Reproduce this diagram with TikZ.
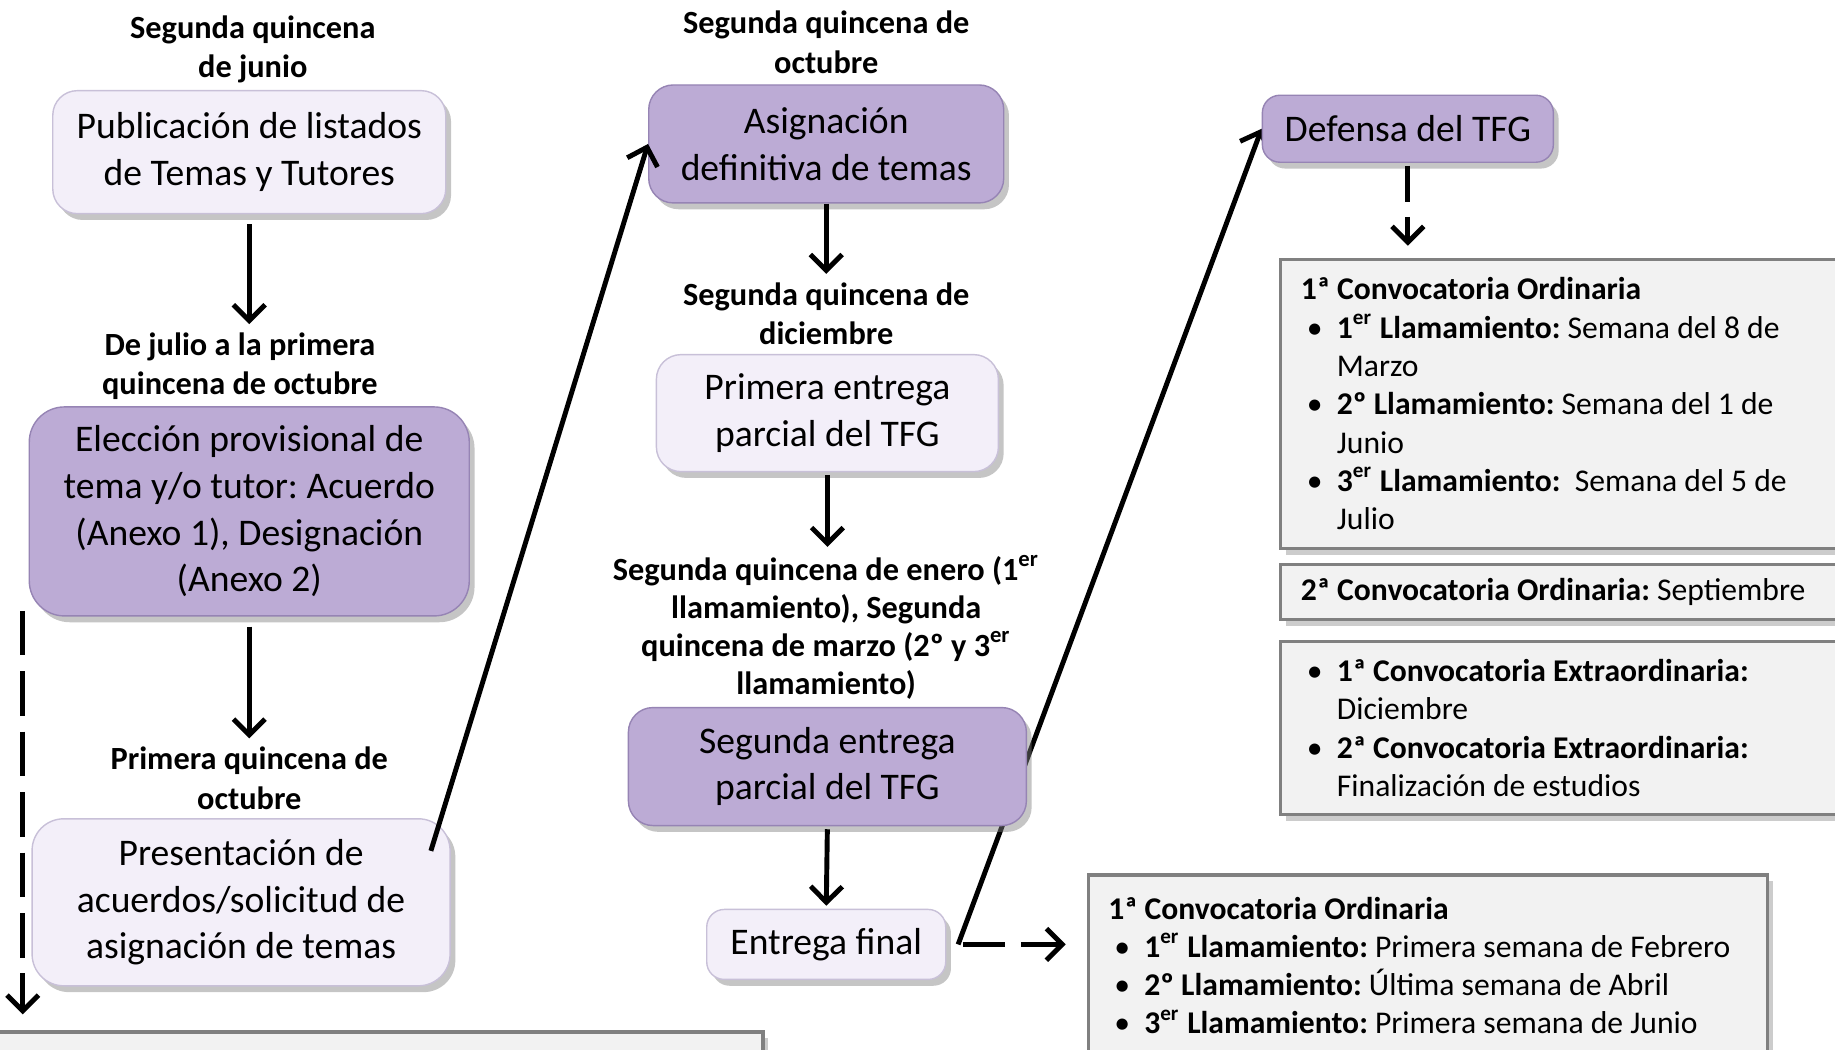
\documentclass[tikz,border=0pt]{standalone}
\usepackage{fontspec}
\setmainfont{Carlito}
\usetikzlibrary{arrows.meta,shadows}

\definecolor{lila}{RGB}{188,171,213}
\definecolor{lilaborde}{RGB}{150,132,180}
\definecolor{lilaclaro}{RGB}{243,239,249}
\definecolor{lilaclaroborde}{RGB}{200,192,216}
\definecolor{gris}{RGB}{242,242,242}
\definecolor{grisborde}{RGB}{128,128,128}

\pgfdeclarelayer{fondo}
\pgfsetlayers{fondo,main}

\newcommand{\vineta}{\hspace*{0.06cm}\makebox[0.3cm][l]{\small\textbullet}}
\newcommand{\sangria}{\hspace*{0.36cm}}

\tikzset{
	caja/.style={draw=lilaclaroborde, fill=lilaclaro, rounded corners=7pt, align=center, inner sep=0pt,
		font=\fontsize{10.7}{13.3}\selectfont\frenchspacing,
		drop shadow={opacity=0.45, shadow xshift=1.5pt, shadow yshift=-1.8pt}},
	cajalila/.style={caja, draw=lilaborde, fill=lila},
	fecha/.style={align=center, inner sep=0pt, font=\fontsize{9.2}{11.2}\selectfont\bfseries},
	lista/.style={draw=grisborde, fill=gris, line width=0.9pt, align=flush left, inner xsep=0.2cm,
		font=\fontsize{9}{10.9}\selectfont\frenchspacing,
		drop shadow={opacity=0.4, shadow xshift=1.5pt, shadow yshift=-1.8pt}},
	flecha/.style={line width=1.4pt, >={Straight Barb[length=4.5pt,width=9pt,line width=1.4pt]}},
}

\begin{document}
\begin{tikzpicture}[x=0.011703cm, y=-0.011703cm]
	\clip (0,0) rectangle (1568,897);
	\begin{pgfonlayer}{fondo}
		\fill[white] (0,0) rectangle (1568,897);
	\end{pgfonlayer}

	% columna izquierda
	\node (lab1) at (216,42) [fecha] {Segunda quincena\\de junio};
	\node (pub) at (213,130) [caja, minimum width=3.93cm, minimum height=1.23cm] {Publicación de listados\\de Temas y Tutores};
	\node (lab2) at (205,313) [fecha] {De julio a la primera\\quincena de octubre};
	\node (elec) at (213,437) [cajalila, rounded corners=10pt, minimum width=4.40cm, minimum height=2.09cm] {Elección provisional de\\tema y/o tutor: Acuerdo\\(Anexo 1), Designación\\(Anexo 2)};
	\node (lab3) at (213,665) [fecha] {Primera quincena de\\octubre};
	\node (pres) at (206,771) [caja, rounded corners=9pt, minimum width=4.18cm, minimum height=1.67cm] {Presentación de\\acuerdos/solicitud de\\asignación de temas};
	\node (res) at (323,916) [lista, minimum width=7.70cm, minimum height=0.80cm] {};

	% columna central
	\node (lab4) at (706,36) [fecha] {Segunda quincena de\\octubre};
	\node (asig) at (706,123) [cajalila, minimum width=3.55cm, minimum height=1.18cm] {Asignación\\definitiva de temas};
	\node (lab5) at (706,268) [fecha] {Segunda quincena de\\diciembre};
	\node (prim) at (707,353) [caja, minimum width=3.42cm, minimum height=1.17cm] {Primera entrega\\parcial del TFG};
	\node (lab6) at (706,536) [fecha, font=\fontsize{9.2}{10.8}\selectfont\bfseries] {Segunda quincena de enero (1\textsuperscript{er}\\llamamiento), Segunda\\quincena de marzo (2º y 3\textsuperscript{er}\\llamamiento)};
	\node (seg) at (707,655) [cajalila, minimum width=3.98cm, minimum height=1.18cm] {Segunda entrega\\parcial del TFG};
	\node (fin) at (706,807) [caja, rounded corners=5pt, minimum width=2.39cm, minimum height=0.70cm] {Entrega final};

	% columna derecha
	\node (def) at (1203,110) [cajalila, rounded corners=5pt, minimum width=2.91cm, minimum height=0.67cm] {Defensa del TFG};
	\node (ord1) at (1347,345) [lista, text width=5.51cm, minimum height=2.89cm] {%
		\textbf{1ª Convocatoria Ordinaria}\\
		\vineta\textbf{1\textsuperscript{er} Llamamiento:} Semana del 8 de\\
		\sangria Marzo\\
		\vineta\textbf{2º Llamamiento:} Semana del 1 de\\
		\sangria Junio\\
		\vineta\textbf{3\textsuperscript{er} Llamamiento:}\ \ Semana del 5 de\\
		\sangria Julio};
	\node (ord2) at (1347,506) [lista, text width=5.51cm, minimum height=0.55cm] {\textbf{2ª Convocatoria Ordinaria:} Septiembre};
	\node (extra) at (1347,622) [lista, text width=5.51cm, minimum height=1.73cm] {%
		\vineta\textbf{1ª Convocatoria Extraordinaria:}\\
		\sangria Diciembre\\
		\vineta\textbf{2ª Convocatoria Extraordinaria:}\\
		\sangria Finalización de estudios};
	\node (llam) at (1220,825) [lista, text width=6.39cm, minimum height=1.81cm] {%
		\textbf{1ª Convocatoria Ordinaria}\\
		\vineta\textbf{1\textsuperscript{er} Llamamiento:} Primera semana de Febrero\\
		\vineta\textbf{2º Llamamiento:} Última semana de Abril\\
		\vineta\textbf{3\textsuperscript{er} Llamamiento:} Primera semana de Junio};

	\draw[flecha]
	(pub.south) edge[->, shorten <=0.1cm, shorten >=0.08cm] (pub.south |- lab2.north)
	(elec.south) edge[->, shorten <=0.1cm, shorten >=0.08cm] (elec.south |- lab3.north)
	(asig.south) edge[->, shorten >=0.08cm] (asig.south |- lab5.north)
	(prim.south) edge[->, shorten <=0.03cm, shorten >=0.08cm] (prim.south |- lab6.north)
	(seg.south) edge[->, shorten <=0.03cm, shorten >=0.03cm] (fin.north)
	([shift={(-17,28)}]pres.north east) edge[->] (asig.west)
	;
	\draw[flecha, ->, dash pattern=on 12.7pt off 4.5pt, shorten >=0.16cm]
	([shift={(-5,-5)}]elec.south west) -- ([shift={(-5,0)}]elec.south west |- res.north);
	\draw[flecha, ->, dash pattern=on 11.9pt off 4.6pt, shorten >=0.21cm]
	([shift={(14,0)}]fin.east) -- (llam.west |- fin.east);
	\draw[flecha, ->, dash pattern=on 10.2pt off 4.3pt, shorten <=0.03cm, shorten >=0.12cm]
	(def.south) -- (def.south |- ord1.north);
	\begin{pgfonlayer}{fondo}
		\draw[flecha, ->] ([shift={(10,0)}]fin.east) -- (def.west);
	\end{pgfonlayer}
\end{tikzpicture}
\end{document}
